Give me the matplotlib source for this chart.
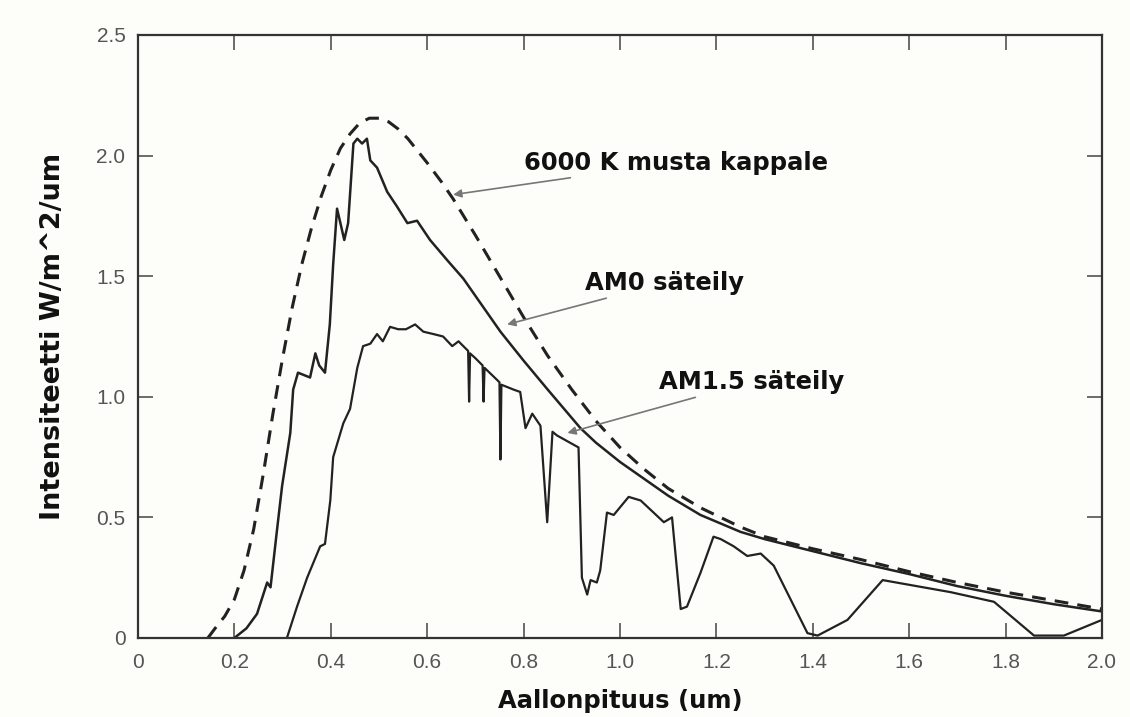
import matplotlib
matplotlib.use('Agg')
import matplotlib.pyplot as plt

# 6000 K blackbody (dashed)
bb_x = [0.145, 0.16, 0.18, 0.20, 0.22, 0.24, 0.26, 0.28, 0.30, 0.32, 0.34, 0.36,
        0.38, 0.40, 0.42, 0.44, 0.46, 0.48, 0.50, 0.52, 0.54, 0.56, 0.58, 0.60,
        0.63, 0.654, 0.70, 0.75, 0.80, 0.85, 0.90, 0.95, 1.00, 1.05, 1.10, 1.167,
        1.25, 1.30, 1.40, 1.50, 1.60, 1.70, 1.80, 1.90, 2.00]
bb_y = [0.0, 0.04, 0.09, 0.16, 0.28, 0.45, 0.68, 0.93, 1.16, 1.37, 1.55, 1.70,
        1.83, 1.94, 2.03, 2.09, 2.135, 2.155, 2.155, 2.14, 2.11, 2.07, 2.02, 1.97,
        1.89, 1.82, 1.67, 1.50, 1.33, 1.17, 1.03, 0.90, 0.79, 0.70, 0.62, 0.54,
        0.46, 0.42, 0.37, 0.325, 0.275, 0.23, 0.19, 0.155, 0.12]

# AM0 spectrum
am0_x = [0.20, 0.225, 0.247, 0.268, 0.275, 0.288, 0.299, 0.316, 0.322, 0.332,
         0.357, 0.368, 0.376, 0.388, 0.398, 0.405, 0.413, 0.420, 0.428, 0.436,
         0.447, 0.455, 0.465, 0.475, 0.482, 0.496, 0.517, 0.537, 0.559, 0.579,
         0.606, 0.64, 0.675, 0.717, 0.752, 0.80, 0.85, 0.918, 0.95, 1.00, 1.05,
         1.10, 1.167, 1.25, 1.30, 1.40, 1.50, 1.60, 1.70, 1.80, 1.90, 2.00]
am0_y = [0.0, 0.04, 0.10, 0.23, 0.21, 0.44, 0.63, 0.85, 1.03, 1.10,
         1.08, 1.18, 1.13, 1.10, 1.30, 1.55, 1.78, 1.72, 1.65, 1.72,
         2.05, 2.07, 2.05, 2.07, 1.98, 1.95, 1.85, 1.79, 1.72, 1.73,
         1.65, 1.57, 1.49, 1.37, 1.27, 1.15, 1.03, 0.87, 0.81, 0.73, 0.66,
         0.59, 0.51, 0.44, 0.41, 0.36, 0.31, 0.265, 0.215, 0.175, 0.14, 0.11]

# AM1.5 spectrum
am15_x = [0.309, 0.33, 0.351, 0.378, 0.388, 0.399, 0.405, 0.426, 0.440, 0.455,
          0.467, 0.482, 0.496, 0.508, 0.523, 0.54, 0.556, 0.575, 0.592, 0.613,
          0.633, 0.652, 0.665, 0.685, 0.687, 0.689, 0.700, 0.715, 0.717, 0.719,
          0.745, 0.750, 0.752, 0.754, 0.779, 0.793, 0.804, 0.818, 0.835, 0.849,
          0.860, 0.869, 0.914, 0.921, 0.932, 0.939, 0.952, 0.959, 0.973, 0.987,
          1.018, 1.043, 1.091, 1.108, 1.126, 1.139, 1.167, 1.194, 1.209, 1.236,
          1.264, 1.292, 1.319, 1.389, 1.410, 1.472, 1.545, 1.686, 1.776, 1.859,
          1.921, 2.00]
am15_y = [0.0, 0.13, 0.25, 0.38, 0.39, 0.57, 0.75, 0.89, 0.95, 1.12,
          1.21, 1.22, 1.26, 1.23, 1.29, 1.28, 1.28, 1.30, 1.27, 1.26,
          1.25, 1.21, 1.23, 1.19, 0.98, 1.18, 1.16, 1.13, 0.98, 1.12,
          1.07, 1.06, 0.74, 1.05, 1.03, 1.02, 0.87, 0.93, 0.88, 0.48,
          0.855, 0.84, 0.79, 0.25, 0.18, 0.24, 0.23, 0.28, 0.52, 0.51,
          0.585, 0.57, 0.48, 0.50, 0.12, 0.13, 0.27, 0.42, 0.41, 0.38,
          0.34, 0.35, 0.30, 0.02, 0.01, 0.075, 0.24, 0.19, 0.15, 0.01,
          0.01, 0.075]

x_ticks = [0, 0.2, 0.4, 0.6, 0.8, 1.0, 1.2, 1.4, 1.6, 1.8, 2.0]
x_tick_labels = ['0', '0.2', '0.4', '0.6', '0.8', '1.0', '1.2', '1.4', '1.6', '1.8', '2.0']
y_ticks = [0, 0.5, 1.0, 1.5, 2.0, 2.5]
y_tick_labels = ['0', '0.5', '1.0', '1.5', '2.0', '2.5']

# label text, text position, arrow head
notes = [
    ('6000 K musta kappale', (0.80, 1.971), (0.654, 1.838)),
    ('AM0 säteily', (0.928, 1.473), (0.766, 1.300)),
    ('AM1.5 säteily', (1.080, 1.062), (0.891, 0.850)),
]

BG = '#fdfdf9'
INK = '#222222'

fig = plt.figure(figsize=(11.3, 7.17), dpi=100, facecolor=BG)
ax = fig.add_axes([0.1221, 0.1102, 0.8531, 0.8410], facecolor=BG)

ax.plot(bb_x, bb_y, color=INK, lw=2.2, linestyle=(0, (4.5, 3)))
ax.plot(am0_x, am0_y, color=INK, lw=1.8)
ax.plot(am15_x, am15_y, color=INK, lw=1.6)

for text, (tx, ty), (hx, hy) in notes:
    ax.annotate(text, xy=(hx, hy), xytext=(tx, ty), textcoords='data',
                ha='left', va='center', fontsize=17.5, fontweight='bold',
                family='DejaVu Sans', color='#111111',
                arrowprops=dict(arrowstyle='-|>', color='#777777', lw=1.2,
                                mutation_scale=12, shrinkA=2, shrinkB=0))

ax.set_xlim(0, 2.0)
ax.set_ylim(0, 2.5)
ax.set_xticks(x_ticks)
ax.set_xticklabels(x_tick_labels)
ax.set_yticks(y_ticks)
ax.set_yticklabels(y_tick_labels)
ax.tick_params(direction='in', top=True, right=True, length=11, width=1.1,
               color='#444444', labelcolor='#555555', labelsize=15)
ax.tick_params(axis='x', pad=11)
ax.tick_params(axis='y', pad=9)
for lab in ax.get_xticklabels() + ax.get_yticklabels():
    lab.set_family('Liberation Sans')
for sp in ax.spines.values():
    sp.set_linewidth(1.6)
    sp.set_color('#333333')

ax.set_xlabel('Aallonpituus (um)', fontsize=17.5, fontweight='bold',
              family='DejaVu Sans', color='#111111', labelpad=12)
ax.set_ylabel('Intensiteetti W/m^2/um', fontsize=19.5, fontweight='bold',
              family='DejaVu Sans', color='#111111', labelpad=22)

fig.savefig('out.png', dpi=100, facecolor=BG)
